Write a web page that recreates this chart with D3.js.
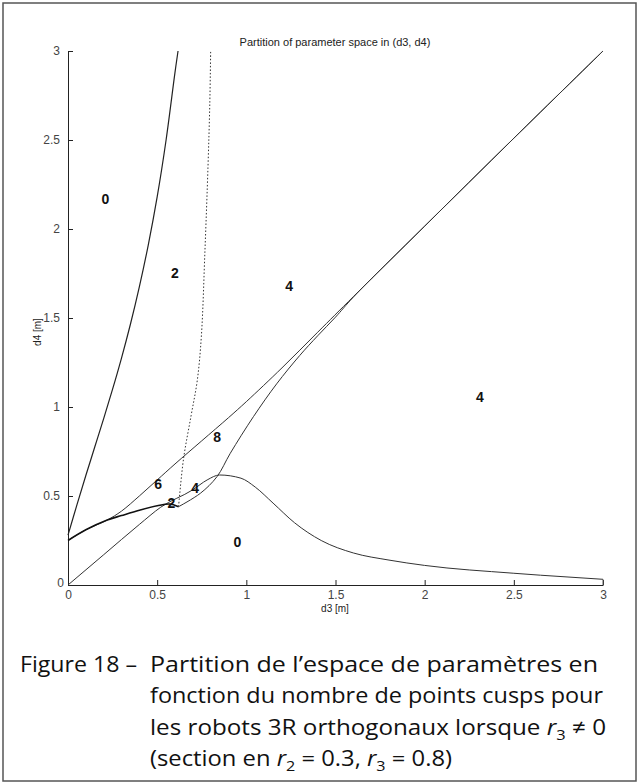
<!DOCTYPE html>
<meta charset="utf-8">
<html>
<head>
<script src="https://cdn.jsdelivr.net/npm/d3@7"></script>
<style>
  body { margin: 0; background: #fff; }
  .tick text { font: 12px "Liberation Sans", Arial, sans-serif; fill: #444; }
  .lbl { font: bold 14px "Liberation Sans", Arial, sans-serif; fill: #111; }
  .small { font: 10px "Liberation Sans", Arial, sans-serif; fill: #222; }
  .caption { font: 22px "Open Sans", "DejaVu Sans", sans-serif; fill: #111; }
</style>
</head>
<body>
<svg id="fig" width="640" height="784"></svg>
<script>
// curves, [d3, d4]
var steepCurve = [[0,0.28],[0.05,0.45],[0.1,0.615],[0.15,0.775],[0.2,0.935],[0.25,1.10],[0.3,1.275],
  [0.35,1.465],[0.4,1.675],[0.45,1.91],[0.5,2.18],[0.55,2.50],[0.6,2.88],[0.617,3.0]];
var dottedCurve = [[0.62,0.44],[0.648,0.71],[0.69,0.95],[0.725,1.15],[0.748,1.40],[0.768,1.88],
  [0.785,2.35],[0.795,2.7],[0.80,3.0]];
var thickCurve = [[0,0.25],[0.1,0.31],[0.22,0.365],[0.3,0.39],[0.4,0.42],[0.5,0.445],[0.57,0.455],[0.62,0.44]];
var upperCurve = [[0,0.25],[0.1,0.31],[0.22,0.365],[0.3,0.415],[0.4,0.50],[0.5,0.59],[0.6,0.68],
  [0.75,0.81],[0.9,0.94],[1,1.03],[1.2,1.22],[1.4,1.42],[1.6,1.62],[2,2.016],[2.5,2.51],[3,3.0]];
var cuspCurve = [[0.62,0.44],[0.742,0.515],[0.835,0.608],[0.91,0.74],[1.04,0.946],[1.17,1.13],
  [1.30,1.29],[1.40,1.40],[1.5,1.505],[1.6,1.617],[2,2.016],[2.5,2.51],[3,3.0]];
var humpCurve = [[0,0],[0.2,0.17],[0.4,0.34],[0.52,0.437],[0.7,0.535],[0.78,0.59],[0.85,0.618],
  [0.97,0.60],[1.05,0.55],[1.15,0.46],[1.27,0.35],[1.42,0.25],[1.6,0.18],[1.8,0.14],[2,0.11],
  [2.5,0.066],[2.65,0.055],[3,0.032]];
var edgeSegment = [[3,0.032],[3,0]];

var regionLabels = ["0","2","4","4","8","6","4","2","0"];
var labelX = [0.21,0.60,1.24,2.31,0.837,0.506,0.713,0.58,0.95];
var labelY = [2.17,1.75,1.68,1.056,0.83,0.567,0.545,0.46,0.24];

var tickVals = [0,0.5,1,1.5,2,2.5,3];

var captionHead = "Figure 18 \u2013";
var captionLines = ["Partition de l\u2019espace de param\u00e8tres en",
  "fonction du nombre de points cusps pour"];

var svg = d3.select("#fig");

// outer frame
svg.append("rect").attr("x", 3).attr("y", 3).attr("width", 633).attr("height", 778)
  .attr("fill", "none").attr("stroke", "#555").attr("stroke-width", 1.5);

var x = d3.scaleLinear().domain([0, 3]).range([68, 603]);
var y = d3.scaleLinear().domain([0, 3]).range([585, 51]);

var xAxis = svg.append("g").attr("transform", "translate(0,585)")
  .call(d3.axisBottom(x).tickValues(tickVals).tickFormat(d3.format("")).tickSizeInner(-5).tickSizeOuter(0).tickPadding(5));
var yAxis = svg.append("g").attr("transform", "translate(68,0)")
  .call(d3.axisLeft(y).tickValues(tickVals).tickFormat(d3.format("")).tickSizeInner(-5).tickSizeOuter(0).tickPadding(8));
svg.selectAll(".domain").attr("stroke", "#222");
svg.selectAll(".tick line").attr("stroke", "#222");
yAxis.selectAll(".tick").filter(function(d) { return d === 0; }).select("text").attr("x", -4).attr("dy", "0.1em");

var line = d3.line()
  .x(function(d) { return x(d[0]); })
  .y(function(d) { return y(d[1]); })
  .curve(d3.curveCatmullRom.alpha(0.5));

var plot = svg.append("g").attr("fill", "none");
plot.append("path").attr("d", line.curve(d3.curveMonotoneX)(humpCurve)).attr("stroke", "#333").attr("stroke-width", 1);
line.curve(d3.curveCatmullRom.alpha(0.5));
plot.append("path").attr("d", line(edgeSegment)).attr("stroke", "#555").attr("stroke-width", 1);
plot.append("path").attr("d", line(upperCurve)).attr("stroke", "#333").attr("stroke-width", 1);
plot.append("path").attr("d", line(cuspCurve)).attr("stroke", "#333").attr("stroke-width", 1);
plot.append("path").attr("d", line(thickCurve)).attr("stroke", "#111").attr("stroke-width", 1.6);
plot.append("path").attr("d", line(steepCurve)).attr("stroke", "#222").attr("stroke-width", 1.2);
plot.append("path").attr("d", line(dottedCurve)).attr("stroke", "#333").attr("stroke-width", 1)
  .attr("stroke-dasharray", "1.5,2");

svg.selectAll(".lbl").data(regionLabels).enter().append("text")
  .attr("class", "lbl")
  .attr("x", function(d, i) { return x(labelX[i]); })
  .attr("y", function(d, i) { return y(labelY[i]); })
  .attr("text-anchor", "middle").attr("dy", "0.35em")
  .text(function(d) { return d; });

svg.append("text").attr("class", "small").attr("x", 335).attr("y", 46)
  .attr("text-anchor", "middle").style("font-size", "11px").text("Partition of parameter space in (d3, d4)");
svg.append("text").attr("class", "small").attr("x", 335).attr("y", 612)
  .attr("text-anchor", "middle").text("d3 [m]");
svg.append("text").attr("class", "small")
  .attr("transform", "translate(41,332) rotate(-90)")
  .attr("text-anchor", "middle").text("d4 [m]");

// caption
var cap = svg.append("g").attr("class", "caption");
cap.append("text").attr("x", 20).attr("y", 672).attr("textLength", 117)
  .attr("lengthAdjust", "spacingAndGlyphs").text(captionHead);
cap.append("text").attr("x", 150).attr("y", 672).attr("textLength", 448)
  .attr("lengthAdjust", "spacingAndGlyphs").text(captionLines[0]);
cap.append("text").attr("x", 150).attr("y", 703).attr("textLength", 453)
  .attr("lengthAdjust", "spacingAndGlyphs").text(captionLines[1]);

var l3 = cap.append("text").attr("x", 150).attr("y", 735).attr("textLength", 456)
  .attr("lengthAdjust", "spacingAndGlyphs");
l3.append("tspan").text("les robots 3R orthogonaux lorsque ");
l3.append("tspan").attr("font-style", "italic").text("r");
l3.append("tspan").attr("font-size", "15px").attr("dy", 5).text("3");
l3.append("tspan").attr("dy", -5).text(" \u2260 0");

var l4 = cap.append("text").attr("x", 150).attr("y", 766).attr("textLength", 302)
  .attr("lengthAdjust", "spacingAndGlyphs");
l4.append("tspan").text("(section en ");
l4.append("tspan").attr("font-style", "italic").text("r");
l4.append("tspan").attr("font-size", "15px").attr("dy", 5).text("2");
l4.append("tspan").attr("dy", -5).text(" = 0.3, ");
l4.append("tspan").attr("font-style", "italic").text("r");
l4.append("tspan").attr("font-size", "15px").attr("dy", 5).text("3");
l4.append("tspan").attr("dy", -5).text(" = 0.8)");
</script>
</body>
</html>
